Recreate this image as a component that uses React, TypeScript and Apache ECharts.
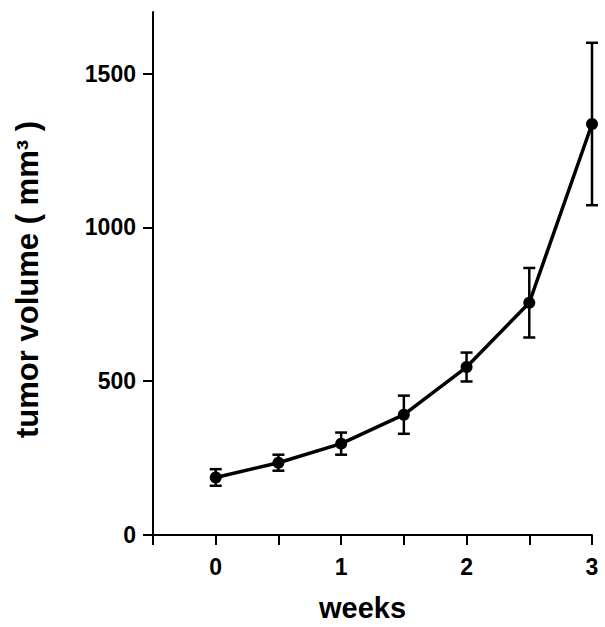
import React, { useEffect, useRef } from "react";
import * as echarts from "echarts";

const weeks = [0, 0.5, 1, 1.5, 2, 2.5, 3];
const meanVolume = [187, 235, 297, 391, 546, 755, 1336];
const errVolume = [27, 26, 36, 62, 47, 113, 264];
const xTickValues = [-0.5, 0, 0.5, 1, 1.5, 2, 2.5, 3];
const xLabelValues = [0, 1, 2, 3];
const yTickValues = [0, 500, 1000, 1500];

const FONT = "'Liberation Sans', Arial, Helvetica, sans-serif";

export default function App() {
  const ref = useRef<HTMLDivElement>(null);
  useEffect(() => {
    if (!ref.current) return;
    const chart = echarts.init(ref.current, undefined, { renderer: "svg" });
    const lineData = weeks.map((w, i) => [w, meanVolume[i]]);
    const errData = weeks.map((w, i) => [w, meanVolume[i] - errVolume[i], meanVolume[i] + errVolume[i]]);
    chart.setOption({
      animation: false,
      backgroundColor: "#ffffff",
      grid: { left: 153, right: 13, top: 12, bottom: 92, containLabel: false },
      xAxis: {
        type: "value",
        min: -0.5,
        max: 3,
        name: "weeks",
        nameLocation: "middle",
        nameGap: 58,
        nameTextStyle: { fontFamily: FONT, fontWeight: "bold", fontSize: 29, color: "#000", padding: [0, 20, 0, 0] },
        axisLine: { show: true, onZero: false, lineStyle: { color: "#000", width: 2 } },
        axisTick: { show: true, inside: false, length: 10, lineStyle: { color: "#000", width: 2 }, customValues: xTickValues },
        axisLabel: { show: true, margin: 20, fontFamily: FONT, fontWeight: "bold", fontSize: 23, color: "#000", customValues: xLabelValues, formatter: (v: number) => String(v) },
        splitLine: { show: false },
      },
      yAxis: {
        type: "value",
        min: 0,
        max: 1700,
        name: "tumor volume ( mm³ )",
        nameLocation: "middle",
        nameGap: 110,
        nameRotate: 90,
        nameTextStyle: { fontFamily: FONT, fontWeight: "bold", fontSize: 31, color: "#000", padding: [0, 12, 0, 0] },
        axisLine: { show: true, onZero: false, lineStyle: { color: "#000", width: 2 } },
        axisTick: { show: true, inside: false, length: 10, lineStyle: { color: "#000", width: 2 }, customValues: yTickValues },
        axisLabel: { show: true, margin: 17, fontFamily: FONT, fontWeight: "bold", fontSize: 23, color: "#000", customValues: yTickValues, formatter: (v: number) => String(v) },
        splitLine: { show: false },
      },
      series: [
        {
          type: "custom",
          data: errData,
          z: 3,
          renderItem: (params: any, api: any) => {
            const x = api.value(0);
            const lo = api.coord([x, api.value(1)]);
            const hi = api.coord([x, api.value(2)]);
            const hw = 6;
            const style = { stroke: "#000", lineWidth: 2.5 };
            return {
              type: "group",
              children: [
                { type: "line", shape: { x1: lo[0], y1: lo[1], x2: hi[0], y2: hi[1] }, style },
                { type: "line", shape: { x1: lo[0] - hw, y1: lo[1], x2: lo[0] + hw, y2: lo[1] }, style },
                { type: "line", shape: { x1: hi[0] - hw, y1: hi[1], x2: hi[0] + hw, y2: hi[1] }, style },
              ],
            };
          },
        },
        {
          type: "line",
          data: lineData,
          z: 4,
          symbol: "circle",
          symbolSize: 12,
          showSymbol: true,
          lineStyle: { color: "#000", width: 3.5 },
          itemStyle: { color: "#000" },
        },
      ],
    });
    return () => chart.dispose();
  }, []);
  return <div ref={ref} style={{ position: "fixed", left: 0, top: 0, width: 605, height: 627, background: "#fff" }} />;
}
